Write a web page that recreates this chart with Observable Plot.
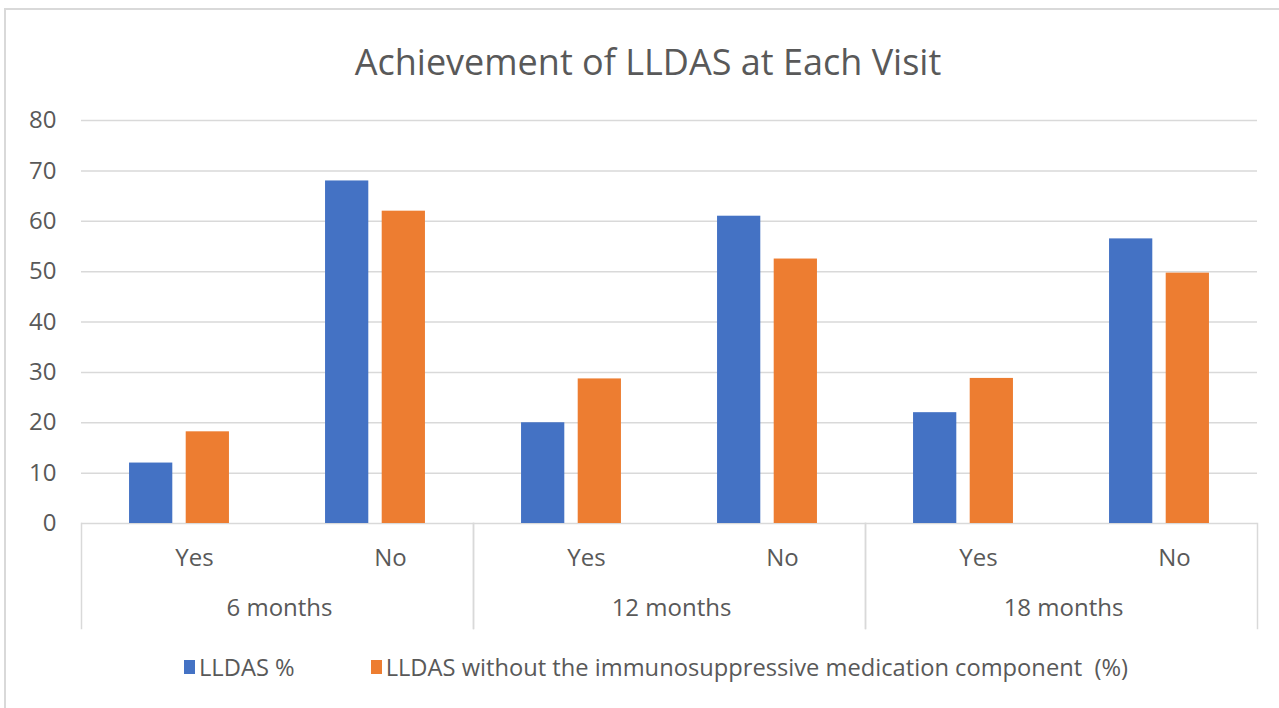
<!DOCTYPE html>
<html><head><meta charset="utf-8">
<script src="https://cdn.jsdelivr.net/npm/d3@7"></script>
<script src="https://cdn.jsdelivr.net/npm/@observablehq/plot@0.6"></script>
<style>
body{margin:0;background:#fff;}
#wrap{position:relative;width:1279px;height:708px;overflow:hidden;font-family:"Open Sans",sans-serif;color:#595959;}
#border{position:absolute;left:4px;top:8px;width:1300px;height:720px;border-top:2px solid #d9d9d9;border-left:2px solid #d9d9d9;}
#title{position:absolute;top:38px;left:0;width:1296px;text-align:center;font-size:36px;line-height:48px;}
#chart{position:absolute;left:0;top:95px;}
#legend{position:absolute;left:184px;top:653px;display:flex;align-items:center;font-size:23.7px;line-height:28px;}
.item{display:flex;align-items:center;margin-right:76px;}
.sw{width:11px;height:14px;margin-right:4px;}
</style></head>
<body>
<div id="wrap">
<div id="border"></div>
<div id="title">Achievement of LLDAS at Each Visit</div>
<div id="chart"></div>
<div id="legend"></div>
</div>
<script>
const visits = ["6 months", "12 months", "18 months"];
const answers = ["Yes", "No"];
const seriesNames = ["LLDAS %", "LLDAS without the immunosuppressive medication component  (%)"];
const lldasPct = [12, 68, 20, 61, 22, 56.5];
const lldasNoIS = [18.2, 62, 28.7, 52.5, 28.8, 49.7];
const yTicks = [0, 10, 20, 30, 40, 50, 60, 70, 80];
const colors = ["#4472C4", "#ED7D31"];

const rows = [];
visits.forEach((v, i) => answers.forEach((a, j) => {
  const k = i * 2 + j;
  rows.push({visit: v, answer: a, series: seriesNames[0], value: lldasPct[k]});
  rows.push({visit: v, answer: a, series: seriesNames[1], value: lldasNoIS[k]});
}));

const W = 1279, mL = 80, mR = 21, mT = 25, mB = 115, plotH = 403, H = mT + plotH + mB;
const catW = (W - mL - mR) / 6, barW = catW * 0.222, gap = barW * 0.3, outer = (catW - 2 * barW - gap) / 2;
const lineStyle = {stroke: "#d9d9d9", strokeOpacity: 1, strokeWidth: 1.5};

const chart = Plot.plot({
  width: W, height: H, marginLeft: mL, marginRight: mR, marginTop: mT, marginBottom: mB,
  style: {fontFamily: '"Open Sans",sans-serif', fontSize: "24px", color: "#595959", background: "transparent"},
  fx: {domain: visits, padding: 0, label: null},
  x: {domain: answers, padding: 0, label: null},
  y: {domain: [0, 80], label: null},
  color: {domain: seriesNames, range: colors},
  marks: [
    Plot.gridY(yTicks, lineStyle),
    Plot.barY(rows.filter(d => d.series === seriesNames[0]), {fx: "visit", x: "answer", y: "value", fill: "series", insetLeft: outer, insetRight: catW - outer - barW}),
    Plot.barY(rows.filter(d => d.series === seriesNames[1]), {fx: "visit", x: "answer", y: "value", fill: "series", insetLeft: outer + barW + gap, insetRight: outer}),
    Plot.frame({anchor: "left", ...lineStyle, insetTop: plotH, insetBottom: -105}),
    Plot.frame({anchor: "right", ...lineStyle, insetTop: plotH, insetBottom: -105}),
    Plot.axisY(yTicks, {tickSize: 0, tickPadding: 25, label: null}),
    Plot.axisX({tickSize: 0, tickPadding: 25, dx: 15, label: null}),
    Plot.axisFx({anchor: "bottom", tickSize: 0, tickPadding: 75, dx: 2, label: null})
  ]
});
document.getElementById("chart").appendChild(chart);

const legend = document.getElementById("legend");
seriesNames.forEach((s, i) => {
  const it = document.createElement("div"); it.className = "item";
  const sw = document.createElement("div"); sw.className = "sw"; sw.style.background = colors[i];
  const tx = document.createElement("span"); tx.textContent = s; tx.style.whiteSpace = "pre";
  it.appendChild(sw); it.appendChild(tx); legend.appendChild(it);
});
</script>
</body></html>
